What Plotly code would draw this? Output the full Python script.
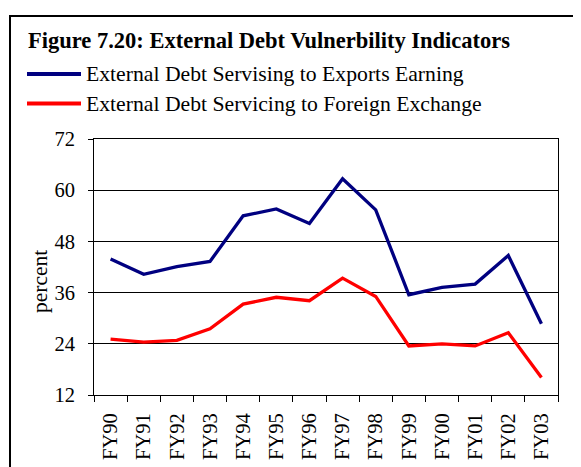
import plotly.graph_objects as go

years = ["FY90", "FY91", "FY92", "FY93", "FY94", "FY95", "FY96", "FY97",
         "FY98", "FY99", "FY00", "FY01", "FY02", "FY03"]
exports_ratio = [43.9, 40.3, 42.1, 43.3, 54.0, 55.6, 52.2, 62.7,
                 55.4, 35.5, 37.2, 38.0, 44.7, 28.7]
fx_ratio = [25.1, 24.4, 24.8, 27.5, 33.3, 34.9, 34.1, 39.4,
            35.1, 23.5, 24.0, 23.5, 26.6, 16.1]
series_names = ["External Debt Servising to Exports Earning",
                "External Debt Servicing to Foreign Exchange"]
series_colors = ["#000080", "#FF0000"]
y_ticks = [12, 24, 36, 48, 60, 72]
title_text = "Figure 7.20: External Debt Vulnerbility Indicators"
y_title = "percent"

OFF = 8  # page body margin
W, H = 581 - OFF, 467 - OFF
# plot area in screen pixels
SL, ST, SR, SB = 94, 139, 558, 395
L, T = SL - OFF, ST - OFF
R, B = W - (SR - OFF), H - (SB - OFF)
pw, ph = W - L - R, H - T - B

def px(x):
    return (x - OFF - L) / pw

def py(y):
    return 1 - (y - OFF - T) / ph

FONT = "Liberation Serif"

fig = go.Figure()
for vals, name, col in zip([exports_ratio, fx_ratio], series_names, series_colors):
    fig.add_trace(go.Scatter(x=years, y=vals, mode="lines", name=name,
                             line=dict(color=col, width=3.3), showlegend=False))

shapes = []
annotations = []
# outer frame
shapes.append(dict(type="rect", xref="paper", yref="paper",
                   x0=px(10), x1=px(600), y0=py(16), y1=py(490),
                   line=dict(color="black", width=2)))
# legend
for i, (name, col) in enumerate(zip(series_names, series_colors)):
    yy = 74 + i * 29.5
    shapes.append(dict(type="line", xref="paper", yref="paper",
                       x0=px(27), x1=px(81), y0=py(yy), y1=py(yy),
                       line=dict(color=col, width=4)))
    annotations.append(dict(text=name, xref="paper", yref="paper",
                            x=px(84), y=py(yy), xanchor="left", yanchor="middle",
                            showarrow=False, font=dict(family=FONT, size=21.7, color="black")))
annotations.append(dict(text="<b>" + title_text + "</b>", xref="paper", yref="paper",
                        x=px(26), y=py(40), xanchor="left", yanchor="middle",
                        showarrow=False, font=dict(family=FONT, size=22.5, color="black")))
annotations.append(dict(text=y_title, xref="paper", yref="paper", textangle=-90,
                        x=px(40), y=py(282), xanchor="center", yanchor="middle",
                        showarrow=False, font=dict(family=FONT, size=21.5, color="black")))

fig.update_layout(
    width=W, height=H,
    margin=dict(l=L, r=R, t=T, b=B, pad=0, autoexpand=False),
    paper_bgcolor="white", plot_bgcolor="white",
    font=dict(family=FONT, size=20, color="black"),
    shapes=shapes, annotations=annotations,
    xaxis=dict(type="category", range=[-0.5, 13.5], tickson="boundaries",
               ticks="outside", ticklen=6, tickcolor="black", tickwidth=1,
               showline=True, linecolor="black", linewidth=1, mirror=True,
               showgrid=False, tickangle=-90, ticklabelstandoff=9, automargin=False,
               tickfont=dict(family=FONT, size=20.5, color="black")),
    yaxis=dict(range=[12, 72], tickvals=y_ticks, ticks="outside", ticklen=5,
               tickcolor="black", tickwidth=1, showline=True, linecolor="black",
               linewidth=1, mirror=True, showgrid=True, gridcolor="black", gridwidth=1,
               zeroline=False, ticklabelstandoff=9, automargin=False,
               tickfont=dict(family=FONT, size=20.5, color="black")),
)

fig.write_html("out.html")
